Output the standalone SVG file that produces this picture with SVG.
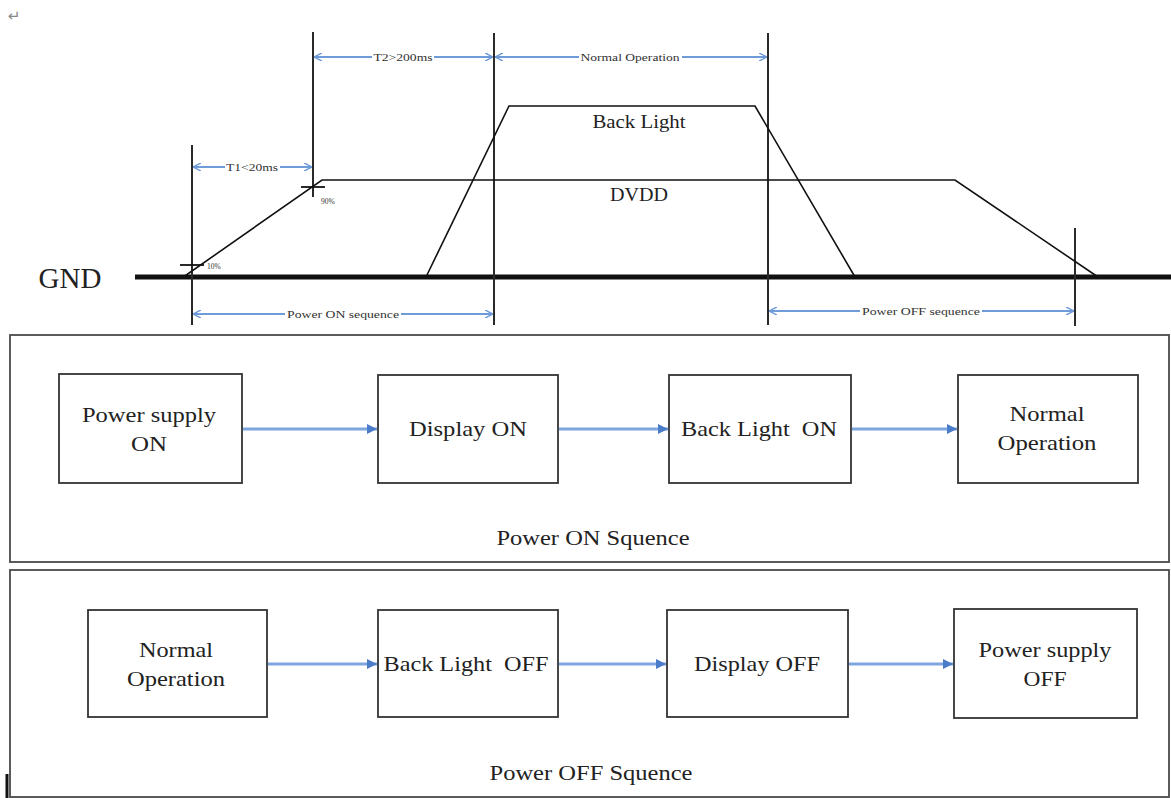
<svg xmlns="http://www.w3.org/2000/svg" width="1171" height="798" viewBox="0 0 1171 798">
<style>
  .t{font-family:"Liberation Serif",serif;fill:#222;text-anchor:middle}
  .box{font-size:21px}
  .sm{font-size:10px;fill:#333}
  .bg{fill:#fff}
  .tiny{font-family:"Liberation Serif",serif;font-size:7.5px;fill:#333}
  .vl{stroke:#2a2a2a;stroke-width:2;fill:none}
  .meas{stroke:#6f9bd8;stroke-width:2;fill:none;marker-start:url(#chev);marker-end:url(#chev)}
  .trace{stroke:#111;stroke-width:1.6;fill:none;stroke-linejoin:miter}
  .panel{fill:#fff;stroke:#4a4a4a;stroke-width:1.8}
  .nb{fill:#fff;stroke:#333;stroke-width:1.8}
  .conn{stroke:#7ea6de;stroke-width:3;fill:none;marker-end:url(#tri)}
</style>
<defs>
  <marker id="chev" viewBox="0 0 8 8" refX="8" refY="4" markerWidth="8" markerHeight="8" markerUnits="userSpaceOnUse" orient="auto-start-reverse">
    <path d="M0,0 L8,4 L0,8" fill="none" stroke="#6f9bd8" stroke-width="1.5"/>
  </marker>
  <marker id="tri" viewBox="0 0 10 10" refX="10" refY="5" markerWidth="11" markerHeight="10" markerUnits="userSpaceOnUse" orient="auto">
    <path d="M0,0 L10,5 L0,10 Z" fill="#4a7cc9"/>
  </marker>
</defs>
<rect width="1171" height="798" fill="#fff"/>

<text x="14" y="21" font-family="DejaVu Sans, sans-serif" font-size="15" fill="#888" text-anchor="middle">↵</text>

<!-- Timing diagram -->
<g id="timing">
  <text class="t" x="70" y="288" font-size="29">GND</text>
  <line x1="135" y1="277" x2="1171" y2="277" stroke="#111" stroke-width="5"/>
  <line class="vl" x1="192" y1="145" x2="192" y2="325"/>
  <line class="vl" x1="313" y1="32" x2="313" y2="197"/>
  <line class="vl" x1="494" y1="33" x2="494" y2="325"/>
  <line class="vl" x1="768" y1="33" x2="768" y2="325"/>
  <line class="vl" x1="1075" y1="228" x2="1075" y2="326"/>

  <path class="trace" d="M182,278 L322,180 L955,180 L1098,277"/>
  <path class="trace" d="M426,277 L509,106 L755,106 L855,277"/>

  <line x1="180" y1="265" x2="204" y2="265" stroke="#111" stroke-width="1.8"/>
  <line x1="301" y1="187" x2="325" y2="187" stroke="#111" stroke-width="1.8"/>
  <text class="tiny" x="207" y="269">10%</text>
  <text class="tiny" x="321" y="204">90%</text>

  <text class="t" x="639" y="128" font-size="19" textLength="93" lengthAdjust="spacingAndGlyphs">Back Light</text>
  <text class="t" x="639" y="201" font-size="18" textLength="58" lengthAdjust="spacingAndGlyphs">DVDD</text>
</g>

<g id="measures">
  <line class="meas" x1="193" y1="167" x2="312" y2="167"/>
  <rect class="bg" x="225" y="161" width="55" height="12"/>
  <text class="t sm" x="252" y="171" textLength="52" lengthAdjust="spacingAndGlyphs">T1&lt;20ms</text>
  <line class="meas" x1="314" y1="57" x2="493" y2="57"/>
  <rect class="bg" x="372" y="51" width="62" height="12"/>
  <text class="t sm" x="403" y="61" textLength="59" lengthAdjust="spacingAndGlyphs">T2&gt;200ms</text>
  <line class="meas" x1="495" y1="57" x2="767" y2="57"/>
  <rect class="bg" x="579" y="51" width="103" height="12"/>
  <text class="t sm" x="630" y="61" textLength="99" lengthAdjust="spacingAndGlyphs">Normal Operation</text>
  <line class="meas" x1="193" y1="314" x2="493" y2="314"/>
  <rect class="bg" x="285" y="308" width="116" height="12"/>
  <text class="t sm" x="343" y="318" textLength="112" lengthAdjust="spacingAndGlyphs">Power ON sequence</text>
  <line class="meas" x1="769" y1="311" x2="1074" y2="311"/>
  <rect class="bg" x="860" y="305" width="122" height="12"/>
  <text class="t sm" x="921" y="315" textLength="118" lengthAdjust="spacingAndGlyphs">Power OFF sequence</text>
</g>

<!-- Power ON panel -->
<g id="panel-on">
  <rect class="panel" x="10" y="335" width="1159" height="227"/>
  <text class="t box" x="593" y="545" textLength="193" lengthAdjust="spacingAndGlyphs">Power ON Squence</text>
</g>
<g id="on-power-supply">
  <rect class="nb" x="59" y="374" width="183" height="109"/>
  <text class="t box" x="149" y="422" textLength="134" lengthAdjust="spacingAndGlyphs">Power supply</text>
  <text class="t box" x="149" y="451" textLength="36" lengthAdjust="spacingAndGlyphs">ON</text>
</g>
<g id="on-display">
  <rect class="nb" x="378" y="375" width="180" height="108"/>
  <text class="t box" x="468" y="436" textLength="118" lengthAdjust="spacingAndGlyphs">Display ON</text>
</g>
<g id="on-backlight">
  <rect class="nb" x="669" y="375" width="182" height="108"/>
  <text class="t box" x="759" y="436" textLength="156" lengthAdjust="spacingAndGlyphs" xml:space="preserve">Back Light  ON</text>
</g>
<g id="on-normal">
  <rect class="nb" x="958" y="375" width="180" height="108"/>
  <text class="t box" x="1047" y="421" textLength="75" lengthAdjust="spacingAndGlyphs">Normal</text>
  <text class="t box" x="1047" y="450" textLength="99" lengthAdjust="spacingAndGlyphs">Operation</text>
</g>

<!-- Power OFF panel -->
<g id="panel-off">
  <rect class="panel" x="10" y="570" width="1159" height="227"/>
  <text class="t box" x="591" y="780" textLength="203" lengthAdjust="spacingAndGlyphs">Power OFF Squence</text>
</g>
<g id="off-normal">
  <rect class="nb" x="88" y="610" width="179" height="107"/>
  <text class="t box" x="176" y="657" textLength="74" lengthAdjust="spacingAndGlyphs">Normal</text>
  <text class="t box" x="176" y="686" textLength="98" lengthAdjust="spacingAndGlyphs">Operation</text>
</g>
<g id="off-backlight">
  <rect class="nb" x="378" y="610" width="180" height="107"/>
  <text class="t box" x="466" y="671" textLength="165" lengthAdjust="spacingAndGlyphs" xml:space="preserve">Back Light  OFF</text>
</g>
<g id="off-display">
  <rect class="nb" x="667" y="610" width="181" height="107"/>
  <text class="t box" x="757" y="671" textLength="126" lengthAdjust="spacingAndGlyphs">Display OFF</text>
</g>
<g id="off-power-supply">
  <rect class="nb" x="954" y="609" width="183" height="109"/>
  <text class="t box" x="1045" y="657" textLength="133" lengthAdjust="spacingAndGlyphs">Power supply</text>
  <text class="t box" x="1045" y="686" textLength="43" lengthAdjust="spacingAndGlyphs">OFF</text>
</g>

<g id="connectors">
  <line class="conn" x1="243" y1="429" x2="377" y2="429"/>
  <line class="conn" x1="559" y1="429" x2="668" y2="429"/>
  <line class="conn" x1="852" y1="429" x2="957" y2="429"/>
  <line class="conn" x1="268" y1="664" x2="377" y2="664"/>
  <line class="conn" x1="559" y1="664" x2="666" y2="664"/>
  <line class="conn" x1="849" y1="664" x2="953" y2="664"/>
</g>

<line x1="7" y1="774" x2="7" y2="798" stroke="#111" stroke-width="3"/>
</svg>
